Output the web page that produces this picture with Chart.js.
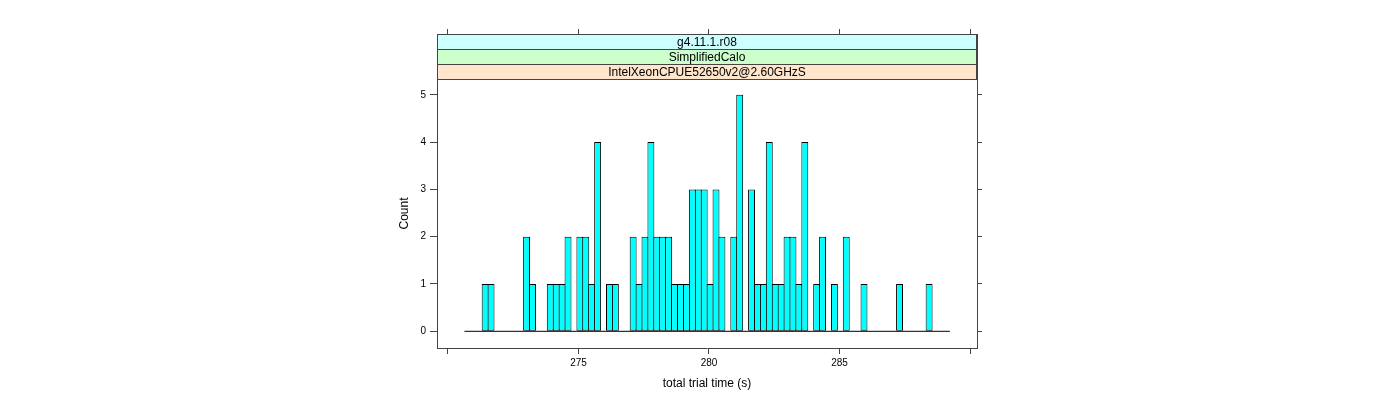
<!DOCTYPE html>
<html><head><meta charset="utf-8">
<script src="https://cdn.jsdelivr.net/npm/chart.js@4.4.0/dist/chart.umd.min.js"></script>
<style>html,body{margin:0;padding:0;background:#fff;} canvas{display:block;}</style>
</head><body>
<canvas id="c" width="1400" height="400"></canvas>
<script>
// ---- data ----
const stripLabels = ['g4.11.1.r08', 'SimplifiedCalo', 'IntelXeonCPUE52650v2@2.60GHzS'];
const stripColors = ['#ccffff', '#ccffcc', '#ffe5cc'];
const breakStart = 270.63;   // left edge of first histogram bin (s)
const binWidth = 0.2268;     // histogram bin width (s)
const counts = [
  0,0,0,1,1,0,0,0,0,0,
  2,1,0,0,1,1,1,2,0,2,
  2,1,4,0,1,1,0,0,2,1,
  2,4,2,2,2,1,1,1,3,3,
  3,1,3,2,0,2,5,0,3,1,
  1,4,1,1,2,2,1,4,0,1,
  2,0,1,0,2,0,0,1,0,0,
  0,0,0,1,0,0,0,0,1,0,
  0,0
];
const xTicks = [270, 275, 280, 285, 290];
const xTickLabels = ['', '275', '280', '285', ''];
const yTicks = [0, 1, 2, 3, 4, 5];
const xLabel = 'total trial time (s)';
const yLabel = 'Count';
const xMin = 269.579, xMax = 290.268;
const yMin = -0.353, yMax = 6.285;

// ---- build ----
const barData = counts.map((c, i) => ({x: breakStart + (i + 0.5) * binWidth, y: c}));
const baseData = [{x: breakStart, y: 0}, {x: breakStart + counts.length * binWidth, y: 0}];

const FONT = '"Liberation Sans", Arial, Helvetica, sans-serif';
const AX = '#444';

const stripPlugin = {
  id: 'strips',
  afterDraw(chart) {
    const {ctx, chartArea: a} = chart;
    const h = 15;
    ctx.save();
    for (let i = 0; i < stripLabels.length; i++) {
      const top = a.top + i * h;
      ctx.fillStyle = stripColors[i];
      ctx.fillRect(a.left, top, a.right - a.left, h);
      ctx.strokeStyle = AX;
      ctx.lineWidth = 1;
      ctx.strokeRect(a.left + 0.5, top + 0.5, a.right - a.left - 1, h);
      ctx.fillStyle = '#000';
      ctx.font = '12px ' + FONT;
      ctx.textAlign = 'center';
      ctx.textBaseline = 'middle';
      ctx.fillText(stripLabels[i], (a.left + a.right) / 2, top + h / 2 + 1);
    }
    // y axis title
    ctx.translate(405, (a.top + 3 * h + a.bottom) / 2);
    ctx.rotate(-Math.PI / 2);
    ctx.fillStyle = '#000';
    ctx.font = '12px ' + FONT;
    ctx.textAlign = 'center';
    ctx.textBaseline = 'middle';
    ctx.fillText(yLabel, 0, 0);
    ctx.restore();
  }
};

const tickFont = {family: FONT, size: 10};

new Chart(document.getElementById('c'), {
  type: 'bar',
  data: {
    datasets: [
      {type: 'bar', data: barData, backgroundColor: '#00ffff', borderColor: '#000',
       borderWidth: 1, borderSkipped: false, barPercentage: 1.17, categoryPercentage: 1,
       xAxisID: 'x', yAxisID: 'y', order: 2},
      {type: 'line', data: baseData, borderColor: '#000', borderWidth: 1, pointRadius: 0,
       xAxisID: 'x', yAxisID: 'y', order: 1}
    ]
  },
  options: {
    responsive: false, animation: false, devicePixelRatio: 1,
    layout: {padding: 0},
    plugins: {legend: {display: false}, tooltip: {enabled: false}},
    scales: {
      x: {
        type: 'linear', position: 'bottom', min: xMin, max: xMax, offset: false,
        afterBuildTicks: s => { s.ticks = xTicks.map(v => ({value: v})); },
        ticks: {callback: (v, i) => xTickLabels[i], font: tickFont, color: '#000', padding: 3,
                maxRotation: 0, autoSkip: false},
        grid: {offset: false, drawOnChartArea: false, drawTicks: true, tickLength: 6, color: AX},
        border: {display: true, color: AX},
        title: {display: true, text: xLabel, color: '#000', font: {family: FONT, size: 12},
                padding: {top: 0, bottom: 9}},
        afterFit: s => { s.height = 52; }
      },
      x2: {
        type: 'linear', position: 'top', min: xMin, max: xMax, offset: false,
        afterBuildTicks: s => { s.ticks = xTicks.map(v => ({value: v})); },
        ticks: {display: false},
        grid: {offset: false, drawOnChartArea: false, drawTicks: true, tickLength: 5, color: AX},
        border: {display: true, color: AX},
        afterFit: s => { s.height = 34; }
      },
      y: {
        type: 'linear', position: 'left', min: yMin, max: yMax,
        afterBuildTicks: s => { s.ticks = yTicks.map(v => ({value: v})); },
        ticks: {font: tickFont, color: '#000', padding: 4, callback: v => String(v)},
        grid: {drawOnChartArea: false, drawTicks: true, tickLength: 7, color: AX},
        border: {display: true, color: AX},
        afterFit: s => { s.width = 437; }
      },
      y2: {
        type: 'linear', position: 'right', min: yMin, max: yMax,
        afterBuildTicks: s => { s.ticks = yTicks.map(v => ({value: v})); },
        ticks: {display: false},
        grid: {drawOnChartArea: false, drawTicks: true, tickLength: 5, color: AX},
        border: {display: true, color: AX},
        afterFit: s => { s.width = 423; }
      }
    }
  },
  plugins: [stripPlugin]
});
</script>
</body></html>
